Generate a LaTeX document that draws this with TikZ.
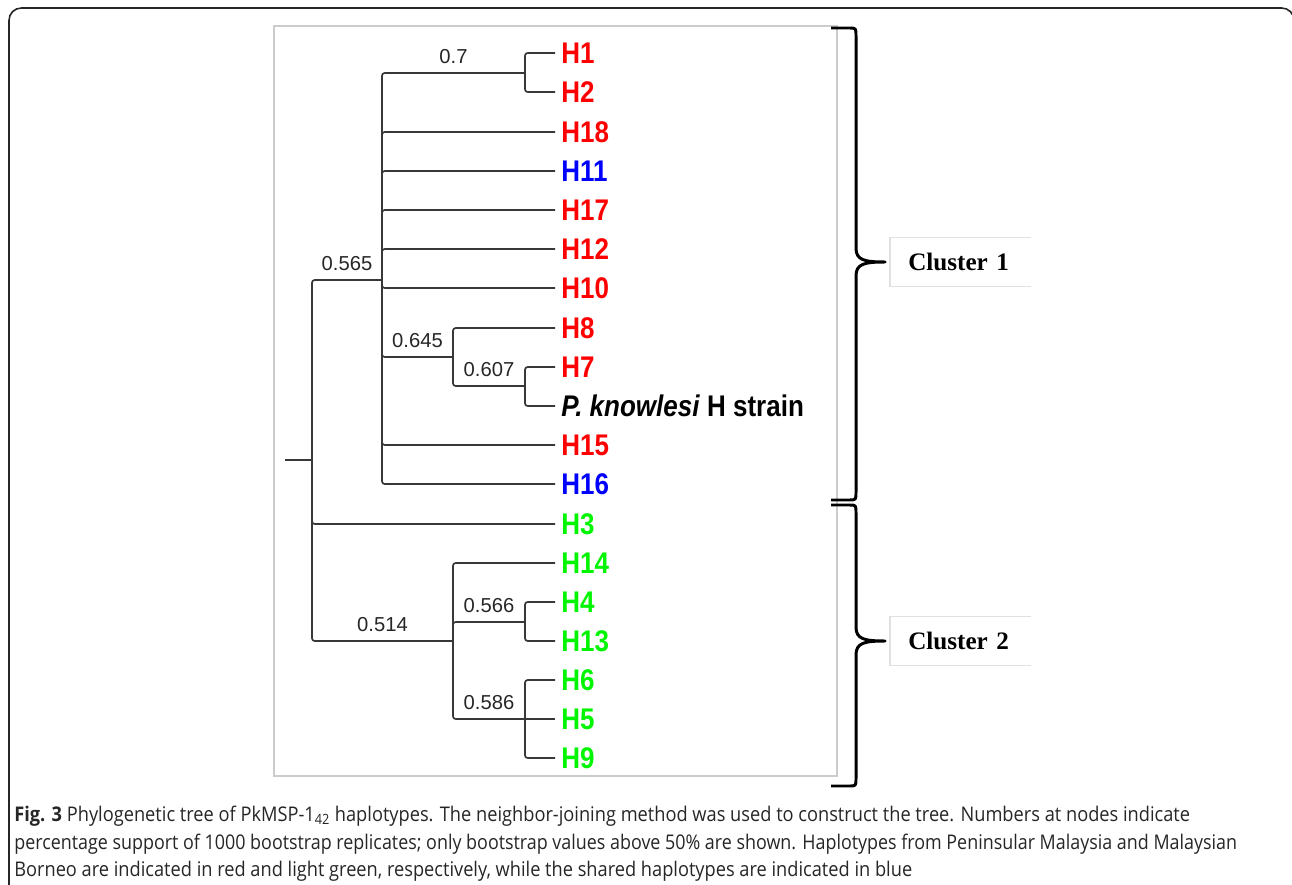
\documentclass[tikz,border=0pt]{standalone}
\usepackage{fontspec}
\setmainfont{Liberation Sans}
\newfontfamily\tipfont[FakeStretch=0.87]{Liberation Sans}
\newfontfamily\capfont{Open Sans}
\newfontfamily\clusterfont{Liberation Serif}
\usetikzlibrary{positioning}

\definecolor{penred}{RGB}{255,0,0}
\definecolor{sharedblue}{RGB}{0,0,255}
\definecolor{borneogreen}{RGB}{0,245,0}

\begin{document}
\begin{tikzpicture}[x=0.02cm,y=-0.02cm,
    branch/.style={draw=black!78,line width=0.95pt,rounded corners=1.5pt},
    tip/.style={anchor=west,inner xsep=3.4pt,inner ysep=0pt,
      font=\tipfont\bfseries\fontsize{17}{17}\selectfont},
    boot/.style={above=5pt,inner sep=0pt,text=black!85,
      font=\fontsize{11.5}{11.5}\selectfont},
    clusterbox/.style={anchor=west,inner xsep=0.36cm,inner ysep=0pt,
      minimum height=0.96cm,text width=2.08cm,
      font=\clusterfont\bfseries\fontsize{14.3}{14.3}\selectfont},
    openedge/.style={draw=black!12,line width=0.6pt},
    clusterbrace/.style={draw=black,line width=1.7pt,line join=round},
    capline/.style={anchor=base west,inner sep=0pt,text=black!85,
      font=\capfont\fontsize{11.5}{11.5}\selectfont}]
\useasboundingbox (0,0) rectangle (1292,885);
% frames
\draw[line width=0.9pt,black!85,rounded corners=7pt] (9,8) rectangle (1294,905);
\draw[draw=black!20,line width=0.6pt] (274,26) rectangle (837,776);

% tips
\node[tip,text=penred] (H1) at (555,53) {H1};
\node[tip,text=penred] (H2) at (555,92) {H2};
\node[tip,text=penred] (H18) at (555,132) {H18};
\node[tip,text=sharedblue] (H11) at (555,171) {H11};
\node[tip,text=penred] (H17) at (555,210) {H17};
\node[tip,text=penred] (H12) at (555,249) {H12};
\node[tip,text=penred] (H10) at (555,288) {H10};
\node[tip,text=penred] (H8) at (555,328) {H8};
\node[tip,text=penred] (H7) at (555,367) {H7};
\node[tip] (Pk) at (555,406) {\textit{P. knowlesi} H strain};
\node[tip,text=penred] (H15) at (555,445) {H15};
\node[tip,text=sharedblue] (H16) at (555,484) {H16};
\node[tip,text=borneogreen] (H3) at (555,524) {H3};
\node[tip,text=borneogreen] (H14) at (555,563) {H14};
\node[tip,text=borneogreen] (H4) at (555,602) {H4};
\node[tip,text=borneogreen] (H13) at (555,641) {H13};
\node[tip,text=borneogreen] (H6) at (555,680) {H6};
\node[tip,text=borneogreen] (H5) at (555,719) {H5};
\node[tip,text=borneogreen] (H9) at (555,758) {H9};

% inner nodes
\coordinate (stub) at (285,460);
\coordinate (root) at (312,460);
\coordinate (c1) at (382,280);
\coordinate (n12) at (525,73);
\coordinate (n8) at (453,357);
\coordinate (n7) at (525,386);
\coordinate (c2) at (453,641);
\coordinate (n4) at (525,622);
\coordinate (n6) at (525,719);

% branches
\draw[branch] (stub) -- (root);
\draw[branch] (root) |- node[boot,pos=0.75] {0.565} (c1);
\draw[branch] (root) |- (H3);
\draw[branch] (root) |- node[boot,pos=0.75] {0.514} (c2);
\draw[branch] (c1) |- node[boot,pos=0.75] {0.7} (n12);
\foreach \t in {H18,H11,H17,H12,H10,H15,H16}
  \draw[branch] (c1) |- (\t);
\draw[branch] (c1) |- node[boot,pos=0.75] {0.645} (n8);
\draw[branch] (n12) |- (H1);
\draw[branch] (n12) |- (H2);
\draw[branch] (n8) |- (H8);
\draw[branch] (n8) |- node[boot,pos=0.75] {0.607} (n7);
\draw[branch] (n7) |- (H7);
\draw[branch] (n7) |- (Pk);
\draw[branch] (c2) |- (H14);
\draw[branch] (c2) |- node[boot,pos=0.75] {0.566} (n4);
\draw[branch] (c2) |- node[boot,pos=0.75] {0.586} (n6);
\draw[branch] (n4) |- (H4);
\draw[branch] (n4) |- (H13);
\draw[branch] (n6) |- (H6);
\draw[branch] (n6) -- (H5);
\draw[branch] (n6) |- (H9);

% clusters
\foreach \ya/\yt/\yb in {28/262/500, 505/641/786}
  \draw[clusterbrace] (831,\ya) -- (849,\ya) .. controls (856,\ya) .. (856,\ya+8)
    -- (856,\yt-14) .. controls (856,\yt-2) and (864,\yt) .. (885,\yt)
    .. controls (864,\yt) and (856,\yt+2) .. (856,\yt+14)
    -- (856,\yb-8) .. controls (856,\yb) .. (849,\yb) -- (831,\yb);
\node[clusterbox] (cl1) at (890,262) {Cluster 1};
\node[clusterbox] (cl2) at (890,641) {Cluster 2};
\draw[openedge] (cl1.north east) -- (cl1.north west) -- (cl1.south west) -- (cl1.south east);
\draw[openedge] (cl2.north east) -- (cl2.north west) -- (cl2.south west) -- (cl2.south east);

% caption
\node[capline] (cap1) at (14,821) {\resizebox{23.52cm}{\height}{\textbf{Fig. 3} Phylogenetic tree of PkMSP-1\textsubscript{42} haplotypes. The neighbor-joining method was used to construct the tree. Numbers at nodes indicate}};
\node[capline] (cap2) at (14,849) {\resizebox{24.46cm}{\height}{percentage support of 1000 bootstrap replicates; only bootstrap values above 50\% are shown. Haplotypes from Peninsular Malaysia and Malaysian}};
\node[capline] (cap3) at (14,876) {\resizebox{17.96cm}{\height}{Borneo are indicated in red and light green, respectively, while the shared haplotypes are indicated in blue}};
\end{tikzpicture}
\end{document}
